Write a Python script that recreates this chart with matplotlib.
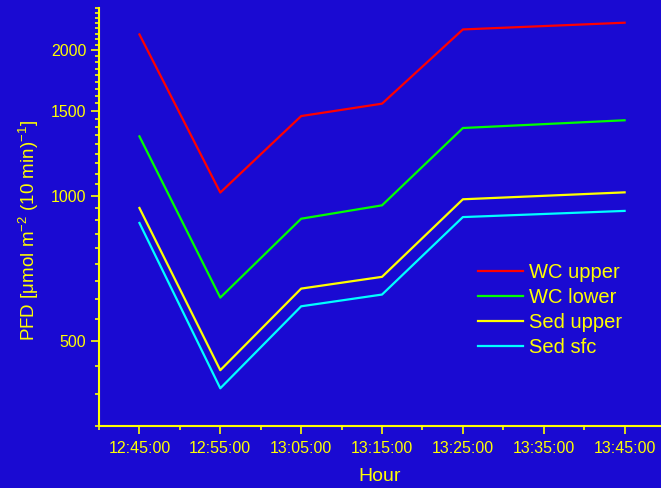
import matplotlib
matplotlib.use("Agg")
import matplotlib.pyplot as plt
from matplotlib.ticker import FixedLocator, FixedFormatter, NullFormatter

plt.rcParams["font.family"] = ["Liberation Sans", "DejaVu Sans"]
plt.rcParams["mathtext.fontset"] = "custom"
plt.rcParams["mathtext.rm"] = "Liberation Sans"
plt.rcParams["mathtext.it"] = "Liberation Sans:italic"

# Sampling times (hh:mm:ss)
times = ["12:45:00", "12:55:00", "13:05:00", "13:15:00", "13:25:00", "13:45:00"]

# Photon flux density per 10-minute interval
wc_upper = [2158, 1015, 1462, 1551, 2210, 2282]
wc_lower = [1327, 615, 896, 955, 1381, 1433]
sed_upper = [943, 435, 642, 679, 983, 1016]
sed_sfc = [878, 399, 590, 624, 903, 930]

series_names = ["WC upper", "WC lower", "Sed upper", "Sed sfc"]
series_colors = ["#ff0000", "#00ff00", "#ffff00", "#00ffff"]

tick_labels = ["12:45:00", "12:55:00", "13:05:00", "13:15:00",
               "13:25:00", "13:35:00", "13:45:00"]
y_major = [500, 1000, 1500, 2000]


def to_minutes(t):
    h, m, s = (int(p) for p in t.split(":"))
    return h * 60 + m + s / 60.0


bg = "#1a0ad2"
fg = "#ffff00"

fig = plt.figure(figsize=(6.61, 4.88), dpi=100, facecolor=bg)
ax = fig.add_axes([99 / 661, 62 / 488, 1 - 99 / 661, (426 - 8.3) / 488])
ax.set_facecolor(bg)

x = [to_minutes(t) for t in times]
for vals, name, col in zip([wc_upper, wc_lower, sed_upper, sed_sfc],
                           series_names, series_colors):
    ax.plot(x, vals, color=col, lw=1.6, label=name)

ax.set_yscale("log")
ymin, ymax = 500 - 3 * 500 / 9, 2000 + 8 * 500 / 9
ax.set_ylim(ymin, ymax)
ax.yaxis.set_major_locator(FixedLocator(y_major))
ax.yaxis.set_major_formatter(FixedFormatter([str(v) for v in y_major]))
step = 500 / 9
minor = []
v = ymin
while v <= ymax + 1e-6:
    if min(abs(v - m) for m in y_major) > 1:
        minor.append(v)
    v += step
ax.yaxis.set_minor_locator(FixedLocator(minor))
ax.yaxis.set_minor_formatter(NullFormatter())

xt = [to_minutes(t) for t in tick_labels]
ax.set_xlim(to_minutes("12:40:00"), to_minutes("13:49:30"))
ax.xaxis.set_major_locator(FixedLocator(xt))
ax.xaxis.set_major_formatter(FixedFormatter(tick_labels))
ax.xaxis.set_minor_locator(FixedLocator([to_minutes("12:40:00")] + [t + 5 for t in xt]))

for side in ("top", "right"):
    ax.spines[side].set_visible(False)
for side in ("left", "bottom"):
    ax.spines[side].set_color(fg)
    ax.spines[side].set_linewidth(1.5)

ax.tick_params(which="major", length=6, width=1.2, color=fg, labelcolor=fg,
               labelsize=11.5, direction="out")
ax.tick_params(which="minor", length=3, width=1.2, color=fg, direction="out")
ax.tick_params(axis="x", which="major", pad=5)
ax.tick_params(axis="y", which="major", pad=3)

ax.set_xlabel("Hour", color=fg, fontsize=14, va="center")
ax.xaxis.set_label_coords(0.5, -0.122)
ax.set_ylabel(r"PFD [μmol m$^{-2}$ (10 min)$^{-1}$]", color=fg, fontsize=13.5,
              va="center")
ax.yaxis.set_label_coords(-0.124, 0.467)

leg = ax.legend(loc="upper left", bbox_to_anchor=(478 / 661, 1 - 263 / 488),
                bbox_transform=fig.transFigure, frameon=False, fontsize=14.5,
                handlelength=2.25, handletextpad=0.3, labelspacing=0.3,
                borderpad=0, borderaxespad=0)
for t in leg.get_texts():
    t.set_color(fg)

fig.savefig("out.png", dpi=100, facecolor=bg)
